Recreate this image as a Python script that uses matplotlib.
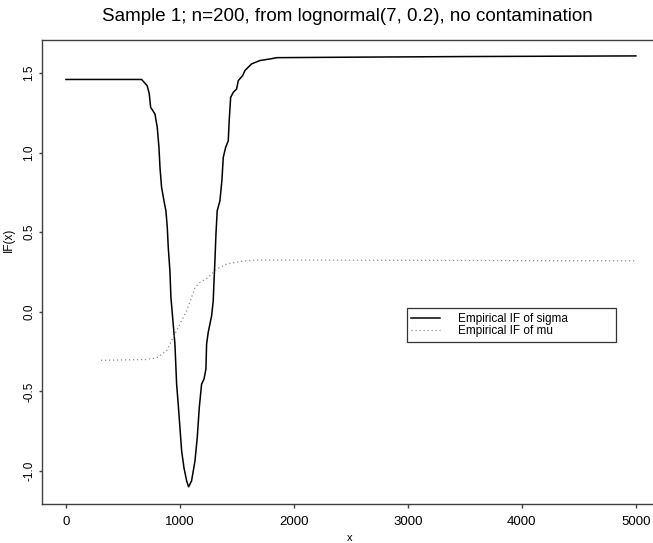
import matplotlib
matplotlib.use("Agg")
import matplotlib.pyplot as plt

# empirical IF of sigma
sigma_x = [0, 300, 650, 664, 713, 731, 743, 781, 801, 816, 825, 839, 860, 877,
           889, 898, 912, 921, 941, 956, 971, 985, 1000, 1015, 1035, 1059, 1076,
           1102, 1132, 1152, 1170, 1190, 1211, 1228, 1234, 1248, 1278, 1292,
           1298, 1307, 1316, 1327, 1351, 1368, 1380, 1401, 1424, 1432, 1445,
           1468, 1497, 1512, 1550, 1570, 1629, 1702, 1800, 1850, 2500, 3500, 5000]
sigma_y = [1.46, 1.46, 1.46, 1.46, 1.42, 1.37, 1.285, 1.243, 1.159, 1.033, 0.907,
           0.782, 0.698, 0.635, 0.53, 0.40, 0.258, 0.09, -0.077, -0.203, -0.455,
           -0.581, -0.728, -0.874, -0.979, -1.063, -1.10, -1.063, -0.937, -0.79,
           -0.60, -0.455, -0.423, -0.36, -0.203, -0.13, -0.025, 0.069, 0.174,
           0.32, 0.489, 0.635, 0.698, 0.824, 0.97, 1.033, 1.075, 1.20, 1.348,
           1.379, 1.40, 1.453, 1.484, 1.516, 1.558, 1.579, 1.59, 1.597, 1.600,
           1.604, 1.608]

# empirical IF of mu
mu_x = [307, 700, 795, 883, 941, 1000, 1059, 1102, 1132, 1175, 1248, 1322, 1410,
        1526, 1643, 2000, 5000]
mu_y = [-0.305, -0.30, -0.29, -0.245, -0.16, -0.077, 0.006, 0.09, 0.153, 0.184,
        0.216, 0.268, 0.30, 0.316, 0.325, 0.325, 0.32]

x_ticks = [0, 1000, 2000, 3000, 4000, 5000]
y_ticks = [-1.0, -0.5, 0.0, 0.5, 1.0, 1.5]

plt.rcParams["font.family"] = ["Liberation Sans", "DejaVu Sans"]

fig = plt.figure(figsize=(6.53, 5.43), dpi=100)
ax = fig.add_axes([42 / 653, 39 / 543, 611 / 653, 464 / 543])

ax.plot(sigma_x, sigma_y, color="black", lw=1.1, label="Empirical IF of sigma")
ax.plot(mu_x, mu_y, color="0.55", lw=0.9, linestyle=(0, (1, 2.2)),
        label="Empirical IF of mu")

ax.set_xlim(-210, 5150)
ax.set_ylim(-1.208, 1.708)
ax.set_xticks(x_ticks)
ax.set_xticklabels([str(v) for v in x_ticks])
ax.set_yticks(y_ticks)
ax.set_yticklabels([f"{v:.1f}" for v in y_ticks])

for s in ["left", "top", "bottom"]:
    ax.spines[s].set_color("0.25")
    ax.spines[s].set_linewidth(1.0)
ax.spines["right"].set_visible(False)

ax.tick_params(axis="x", direction="out", length=3, width=1, pad=5.5,
               labelsize=9.5, color="0.25")
ax.tick_params(axis="y", direction="out", length=2.2, width=1, pad=2.5,
               labelsize=8.5, color="0.25")
for lab in ax.get_yticklabels():
    lab.set_rotation(90)
    lab.set_va("center")

ax.set_title("Sample 1; n=200, from lognormal(7, 0.2), no contamination",
             fontsize=13.5, pad=14)
ax.set_xlabel("x", fontsize=8)
ax.set_ylabel("IF(x)", fontsize=8.5)
ax.xaxis.set_label_coords(0.504, -0.062)
ax.yaxis.set_label_coords(-0.045, 0.569)

leg = ax.legend(loc="upper left", bbox_to_anchor=(0.597, 0.353, 0.342, 0.069),
                mode="expand", borderaxespad=0, fancybox=False, fontsize=8.5,
                handlelength=2.4, handletextpad=1.5, labelspacing=0.0,
                borderpad=0.4, framealpha=1)
leg.get_frame().set_edgecolor("0.2")
leg.get_frame().set_linewidth(0.9)

fig.savefig("out.png", dpi=100)
